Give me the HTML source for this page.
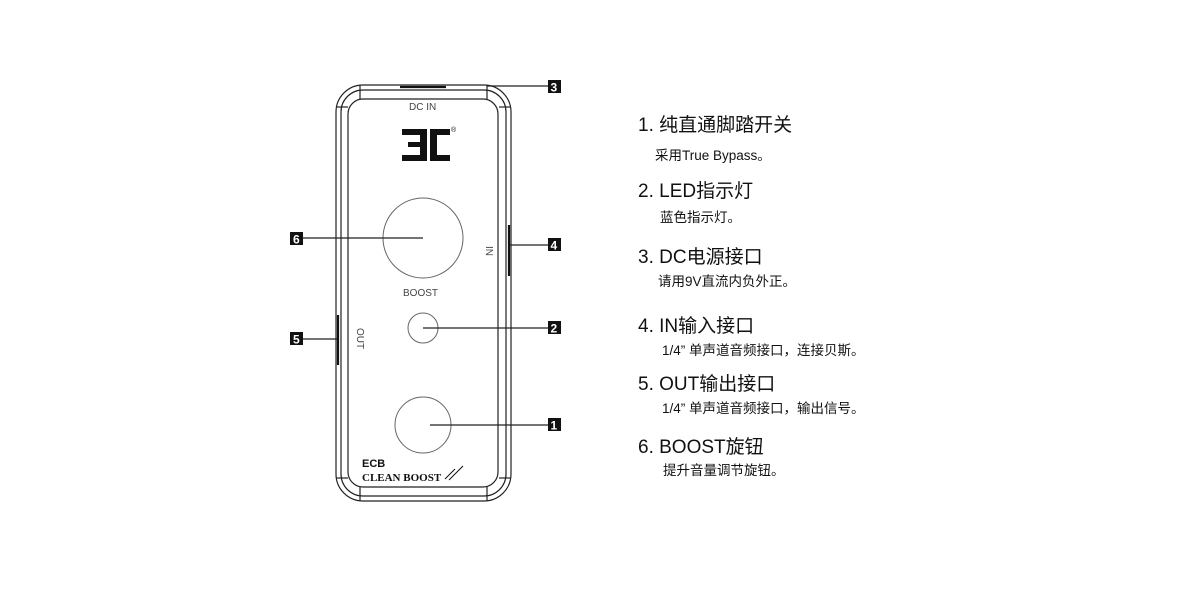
<!DOCTYPE html>
<html><head><meta charset="utf-8"><style>
html,body{margin:0;padding:0;background:#fff;}
svg{display:block}
.h{font-family:"Liberation Sans","Noto Sans CJK SC",sans-serif;font-size:19px;fill:#111}
.s{font-family:"Liberation Sans","Noto Sans CJK SC",sans-serif;font-size:13.5px;fill:#111}
.lb{font-family:"Liberation Sans",sans-serif;font-size:12px;font-weight:bold;fill:#fff}
.sm{font-family:"Liberation Sans",sans-serif;font-size:10px;fill:#444}
</style></head><body>
<svg width="1200" height="600" viewBox="0 0 1200 600" xmlns="http://www.w3.org/2000/svg">
<g fill="none" stroke="#222" stroke-width="1.2">
  <rect x="336" y="85" width="175" height="416" rx="27"/>
  <rect x="341" y="90" width="165" height="406" rx="22"/>
  <rect x="348" y="99" width="150" height="388" rx="15"/>
  <line x1="360" y1="85" x2="360" y2="99"/>
  <line x1="487" y1="85" x2="487" y2="99"/>
  <line x1="360" y1="487" x2="360" y2="501"/>
  <line x1="487" y1="487" x2="487" y2="501"/>
  <line x1="336" y1="107" x2="348" y2="107"/>
  <line x1="499" y1="107" x2="511" y2="107"/>
  <line x1="336" y1="478" x2="348" y2="478"/>
  <line x1="499" y1="478" x2="511" y2="478"/>
</g>
<g fill="none" stroke="#666" stroke-width="1">
  <circle cx="423" cy="238" r="40"/>
  <circle cx="423" cy="328" r="15"/>
  <circle cx="423" cy="425" r="28"/>
</g>
<g stroke="#111" stroke-width="2.2">
  <line x1="509" y1="225" x2="509" y2="276"/>
  <line x1="338" y1="315" x2="338" y2="365"/>
  <line x1="400" y1="87" x2="446" y2="87"/>
</g>
<g stroke="#222" stroke-width="1.2">
  <line x1="487" y1="86" x2="548" y2="86"/>
  <line x1="510" y1="245" x2="548" y2="245"/>
  <line x1="303" y1="238" x2="423" y2="238"/>
  <line x1="303" y1="339" x2="337" y2="339"/>
  <line x1="423" y1="328" x2="548" y2="328"/>
  <line x1="430" y1="425" x2="548" y2="425"/>
</g>
<g fill="#111">
  <rect x="548" y="80" width="13" height="13"/>
  <rect x="548" y="238" width="13" height="13"/>
  <rect x="290" y="232" width="13" height="13"/>
  <rect x="290" y="332" width="13" height="13"/>
  <rect x="548" y="321" width="13" height="13"/>
  <rect x="548" y="418" width="13" height="13"/>
</g>
<text class="lb" x="550.5" y="91.5">3</text>
<text class="lb" x="550.5" y="249.5">4</text>
<text class="lb" x="293" y="243.5">6</text>
<text class="lb" x="293" y="343.5">5</text>
<text class="lb" x="550.5" y="332.5">2</text>
<text class="lb" x="550.5" y="429.5">1</text>
<text class="sm" x="409" y="110">DC IN</text>
<text class="sm" x="403" y="296">BOOST</text>
<text class="sm" transform="translate(486,246) rotate(90)">IN</text>
<text class="sm" transform="translate(357,328) rotate(90)">OUT</text>
<!-- logo -->
<g fill="#111">
  <rect x="402" y="129" width="22" height="6"/>
  <rect x="408" y="142" width="16" height="5"/>
  <rect x="402" y="155" width="22" height="6"/>
  <rect x="420" y="129" width="7" height="32"/>
  <rect x="430" y="129" width="20" height="6"/>
  <rect x="430" y="155" width="20" height="6"/>
  <rect x="430" y="129" width="7" height="32"/>
</g>
<text x="451" y="132" style="font-family:'Liberation Sans',sans-serif;font-size:7px;fill:#111">®</text>
<text x="362" y="467" style="font-family:'Liberation Sans',sans-serif;font-size:11px;font-weight:bold;fill:#111">ECB</text>
<text x="362" y="481" style="font-family:'Liberation Serif',serif;font-size:11px;font-weight:bold;fill:#111">CLEAN BOOST</text>
<path d="M445 479 q6 -6 10 -10 M449 480 l14 -14" stroke="#111" fill="none" stroke-width="1"/>
<!-- right text -->
<text class="h" x="638" y="131">1. 纯直通脚踏开关</text>
<text class="s" x="655" y="160">采用True Bypass。</text>
<text class="h" x="638" y="197">2. LED指示灯</text>
<text class="s" x="660" y="222">蓝色指示灯。</text>
<text class="h" x="638" y="263">3. DC电源接口</text>
<text class="s" x="658" y="286">请用9V直流内负外正。</text>
<text class="h" x="638" y="332">4. IN输入接口</text>
<text class="s" x="662" y="355">1/4” 单声道音频接口，连接贝斯。</text>
<text class="h" x="638" y="390">5. OUT输出接口</text>
<text class="s" x="662" y="413">1/4” 单声道音频接口，输出信号。</text>
<text class="h" x="638" y="453">6. BOOST旋钮</text>
<text class="s" x="663" y="475">提升音量调节旋钮。</text>
</svg>
</body></html>
